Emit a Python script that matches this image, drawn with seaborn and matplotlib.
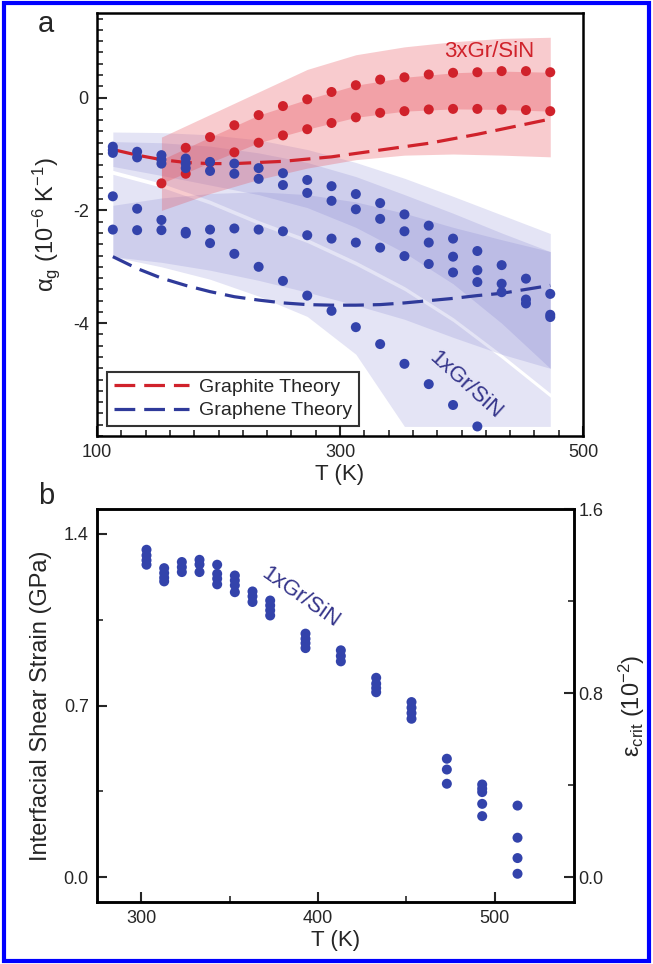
import matplotlib
matplotlib.use("Agg")
import matplotlib.pyplot as plt
import numpy as np
import pandas as pd
import seaborn as sns
from matplotlib.patches import Rectangle
from matplotlib.ticker import MultipleLocator, FixedLocator

sns.set_theme(style="ticks")
plt.rcParams["font.family"] = ["Liberation Sans", "DejaVu Sans"]
plt.rcParams["mathtext.fontset"] = "custom"
plt.rcParams["mathtext.rm"] = "Liberation Sans"
plt.rcParams["mathtext.it"] = "Liberation Sans:italic"
plt.rcParams["mathtext.default"] = "regular"
plt.rcParams["axes.unicode_minus"] = False

# ---- panel a data ----
T_a = [113, 133, 153, 173, 193, 213, 233, 253, 273, 293,
       313, 333, 353, 373, 393, 413, 433, 453, 473]

blue_cols = [
    [-0.87, -0.93, -0.98, -1.75, -2.34],
    [-0.96, -1.06, -1.97, -2.35],
    [-1.02, -1.10, -1.17, -2.17, -2.35],
    [-1.08, -1.17, -1.25, -2.38, -2.41],
    [-1.14, -1.30, -2.34, -2.58],
    [-1.17, -1.35, -2.32, -2.77],
    [-1.25, -1.44, -2.34, -3.00],
    [-1.34, -1.55, -2.37, -3.25],
    [-1.46, -1.69, -2.44, -3.51],
    [-1.57, -1.83, -2.50, -3.78],
    [-1.71, -1.98, -2.57, -4.07],
    [-1.87, -2.15, -2.66, -4.37],
    [-2.07, -2.37, -2.81, -4.72],
    [-2.27, -2.57, -2.95, -5.08],
    [-2.50, -2.82, -3.10, -5.45],
    [-2.72, -3.06, -3.27, -5.83],
    [-2.97, -3.30, -3.45],
    [-3.21, -3.58, -3.65],
    [-3.48, -3.85, -3.89],
]

T_red_up = [173, 193, 213, 233, 253, 273, 293, 313, 333, 353, 373, 393, 413, 433, 453, 473]
red_up = [-0.89, -0.70, -0.49, -0.31, -0.15, -0.03, 0.10, 0.22, 0.32, 0.36,
          0.41, 0.44, 0.45, 0.47, 0.47, 0.45]
T_red_lo = [153, 173, 193, 213, 233, 253, 273, 293, 313, 333, 353, 373, 393, 413, 433, 453, 473]
red_lo = [-1.52, -1.35, -1.15, -0.97, -0.80, -0.67, -0.56, -0.45, -0.35, -0.27,
          -0.24, -0.21, -0.20, -0.20, -0.21, -0.22, -0.24]

graphite = [-0.92, -1.02, -1.10, -1.15, -1.17, -1.17, -1.15, -1.13, -1.09, -1.05,
            -0.99, -0.93, -0.87, -0.81, -0.73, -0.65, -0.56, -0.47, -0.38]
graphene = [-2.82, -3.03, -3.20, -3.33, -3.44, -3.53, -3.59, -3.64, -3.67, -3.68,
            -3.68, -3.67, -3.64, -3.60, -3.56, -3.51, -3.47, -3.40, -3.33]

# shaded uncertainty bands
T_band = [113, 153, 193, 233, 273, 313, 353, 393, 433, 473]
b1_top = [-0.61, -0.62, -0.66, -0.75, -0.92, -1.15, -1.43, -1.75, -2.08, -2.41]
b1_bot = [-1.29, -1.52, -1.82, -2.18, -2.50, -2.90, -3.35, -3.90, -4.55, -5.24]
b2_top = [-0.78, -0.80, -0.86, -0.98, -1.15, -1.40, -1.72, -2.05, -2.40, -2.73]
b2_bot = [-1.22, -1.38, -1.55, -1.72, -1.95, -2.30, -2.75, -3.30, -4.00, -4.80]
b3_top = [-1.36, -1.59, -1.89, -2.25, -2.57, -2.97, -3.42, -3.97, -4.62, -5.31]
b3_bot = [-2.82, -3.00, -3.22, -3.52, -3.88, -4.55, -5.83, -5.83, -5.83, -5.83]
b4_top = [-1.91, -1.78, -1.70, -1.67, -1.72, -1.85, -2.05, -2.30, -2.52, -2.73]
b4_bot = [-2.82, -2.92, -3.06, -3.24, -3.45, -3.68, -3.93, -4.25, -4.55, -4.80]

T_rband = [153, 193, 233, 273, 313, 353, 393, 433, 473]
r_out_top = [-0.70, -0.30, 0.10, 0.50, 0.76, 0.90, 0.99, 1.05, 1.07]
r_out_bot = [-2.00, -1.70, -1.45, -1.25, -1.10, -1.02, -1.00, -1.02, -1.05]
r_in_top = [-1.10, -0.70, -0.31, -0.03, 0.22, 0.36, 0.44, 0.47, 0.45]
r_in_bot = [-1.52, -1.15, -0.80, -0.56, -0.35, -0.24, -0.20, -0.21, -0.24]

# ---- panel b data ----
T_b = [303, 313, 323, 333, 343, 353, 363, 373, 393, 413, 433, 453, 473, 493, 513]
strength = [
    [1.335, 1.312, 1.292, 1.274],
    [1.260, 1.240, 1.221, 1.206],
    [1.285, 1.264, 1.244],
    [1.294, 1.275, 1.244],
    [1.274, 1.237, 1.217, 1.194],
    [1.230, 1.210, 1.190, 1.162],
    [1.165, 1.145, 1.122],
    [1.128, 1.108, 1.088, 1.067],
    [0.993, 0.972, 0.954, 0.934],
    [0.925, 0.902, 0.880],
    [0.813, 0.789, 0.771, 0.754],
    [0.714, 0.691, 0.669, 0.646],
    [0.483, 0.439, 0.381],
    [0.378, 0.361, 0.347, 0.299, 0.249],
    [0.292, 0.161, 0.078, 0.014],
]

RED = "#d0222b"
BLUE = "#3343ab"
BAND_BLUE = "#6b6bc8"
BAND_RED = "#e8555f"
TXT_BLUE = "#34348a"

df_blue = pd.DataFrame([(t, v) for t, col in zip(T_a, blue_cols) for v in col], columns=["T", "alpha"])
df_red = pd.DataFrame({"T": T_red_up + T_red_lo, "alpha": red_up + red_lo})
df_theory = pd.DataFrame({"T": T_a, "graphite": graphite, "graphene": graphene})
df_b = pd.DataFrame([(t, v) for t, col in zip(T_b, strength) for v in col], columns=["T", "tau"])

fig = plt.figure(figsize=(6.53, 9.64), dpi=100)
ax = fig.add_axes([0.1486, 0.5477, 0.7443, 0.4388])
axb = fig.add_axes([0.1486, 0.0646, 0.7305, 0.4071])

# bands
for top, bot in [(b1_top, b1_bot), (b2_top, b2_bot), (b3_top, b3_bot), (b4_top, b4_bot)]:
    ax.fill_between(T_band, bot, top, color=BAND_BLUE, alpha=0.18, lw=0, zorder=1)
ax.fill_between(T_rband, r_out_bot, r_out_top, color=BAND_RED, alpha=0.3, lw=0, zorder=1)
ax.fill_between(T_rband, r_in_bot, r_in_top, color=BAND_RED, alpha=0.35, lw=0, zorder=1)

dash = (0, (6.5, 2.8))
sns.lineplot(data=df_theory, x="T", y="graphite", ax=ax, color=RED, lw=2.3,
             linestyle=dash, label="Graphite Theory", zorder=2)
sns.lineplot(data=df_theory, x="T", y="graphene", ax=ax, color="#2f3a9a", lw=2.3,
             linestyle=dash, label="Graphene Theory", zorder=2)
sns.scatterplot(data=df_red, x="T", y="alpha", ax=ax, color=RED, s=52,
                edgecolor="none", zorder=3)
sns.scatterplot(data=df_blue, x="T", y="alpha", ax=ax, color=BLUE, s=52,
                edgecolor="none", zorder=4)

ax.set_xlim(100, 500)
ax.set_ylim(-6, 1.5)
ax.xaxis.set_major_locator(FixedLocator([100, 300, 500]))
ax.xaxis.set_minor_locator(MultipleLocator(20))
ax.yaxis.set_major_locator(FixedLocator([-4, -2, 0]))
ax.yaxis.set_minor_locator(MultipleLocator(0.2))
ax.tick_params(which="both", direction="in", labelsize=13, top=False, right=False, pad=6)
ax.tick_params(which="major", length=7, width=1.5)
ax.tick_params(which="minor", length=4, width=1.2)
ax.set_xlabel("T (K)", fontsize=16, labelpad=2)
ax.set_ylabel(r"$\alpha_g$ (10$^{-6}$ K$^{-1}$)", fontsize=17, labelpad=8)
ax.text(423, 0.82, "3xGr/SiN", color=RED, fontsize=16, ha="center", va="center")
ax.text(403, -5.09, "1xGr/SiN", color=TXT_BLUE, fontsize=16, ha="center", va="center",
        rotation=-42, rotation_mode="anchor")
leg = ax.legend(loc="lower left", fontsize=14, frameon=True, fancybox=False,
                handlelength=3.9, handletextpad=0.5, borderpad=0.35, labelspacing=0.3,
                borderaxespad=0.5)
leg.get_frame().set_edgecolor("black")
leg.get_frame().set_linewidth(1.5)
for sp in ax.spines.values():
    sp.set_linewidth(1.8)
    sp.set_color("black")
fig.text(0.07, 0.975, "a", fontsize=21, ha="center", va="center")

# ---- panel b ----
sns.scatterplot(data=df_b, x="T", y="tau", ax=axb, color=BLUE, s=52, edgecolor="none", zorder=3)
axb.set_xlim(275, 545)
axb.set_ylim(-0.1, 1.5)
axb.xaxis.set_major_locator(MultipleLocator(100))
axb.xaxis.set_minor_locator(MultipleLocator(50))
axb.yaxis.set_major_locator(MultipleLocator(0.7))
axb.yaxis.set_minor_locator(MultipleLocator(0.35))
axb.tick_params(which="both", direction="in", labelsize=13, top=False, right=False, pad=6)
axb.tick_params(which="major", length=7, width=1.5)
axb.tick_params(which="minor", length=4, width=1.2)
axb.set_xlabel("T (K)", fontsize=16, labelpad=2)
axb.set_ylabel("Interfacial Shear Strain (GPa)", fontsize=17, labelpad=8)
axb.text(390, 1.14, "1xGr/SiN", color=TXT_BLUE, fontsize=16, ha="center", va="center",
         rotation=-35, rotation_mode="anchor")
ax2 = axb.twinx()
ax2.set_ylim(-0.1 * 1.6 / 1.5, 1.6)
ax2.yaxis.set_major_locator(MultipleLocator(0.8))
ax2.yaxis.set_minor_locator(MultipleLocator(0.4))
ax2.tick_params(which="both", direction="in", labelsize=13, pad=3)
ax2.tick_params(which="major", length=7, width=1.5)
ax2.tick_params(which="minor", length=4, width=1.2)
ax2.set_ylabel(r"$\varepsilon_{crit}$ (10$^{-2}$)", fontsize=17, labelpad=10)
for a in (axb, ax2):
    for sp in a.spines.values():
        sp.set_linewidth(1.8)
        sp.set_color("black")
fig.text(0.07, 0.485, "b", fontsize=21, ha="center", va="center")

fig.add_artist(Rectangle((0.006, 0.003), 0.988, 0.994, transform=fig.transFigure,
                         fill=False, ec="#0000ff", lw=3))

fig.savefig("out.png", dpi=100)
